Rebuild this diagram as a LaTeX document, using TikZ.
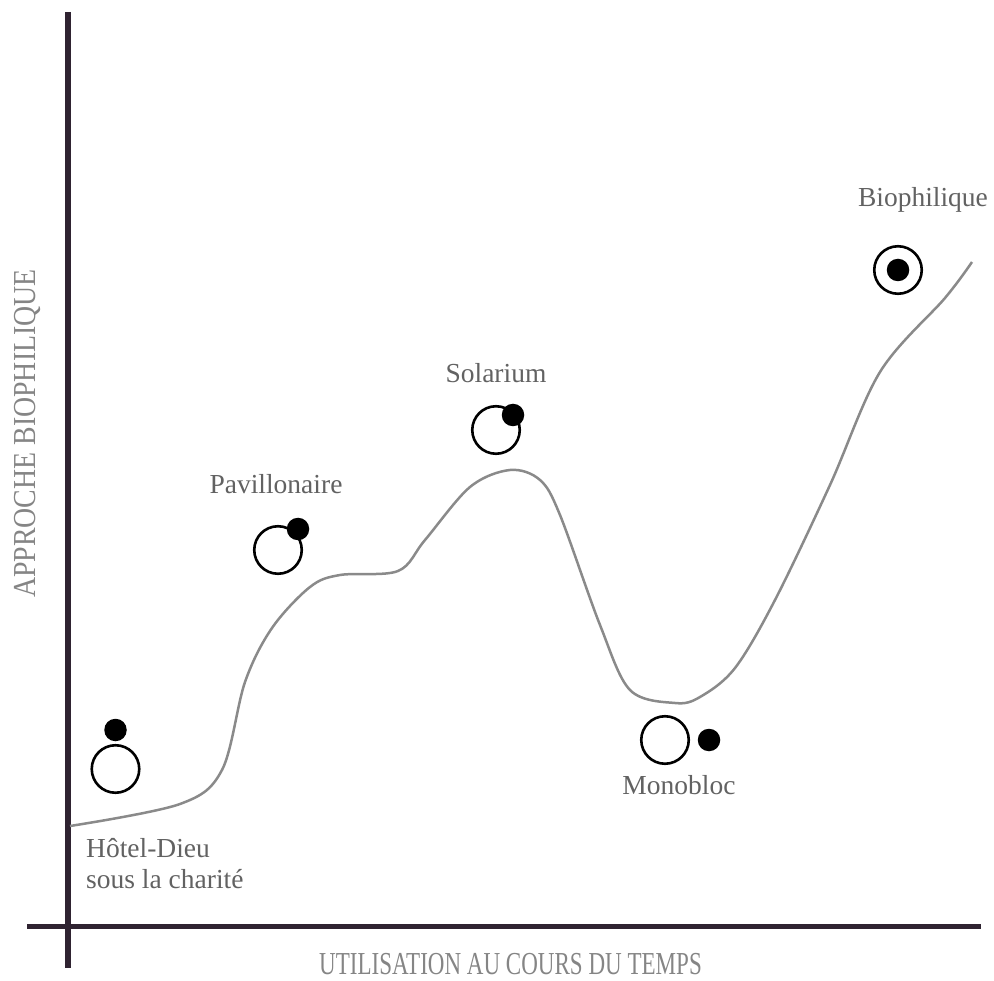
\documentclass[tikz,border=0pt]{standalone}
\usepackage{fontspec}
\setmainfont{Liberation Serif}
\definecolor{axiscol}{HTML}{2F2331}
\definecolor{labelcol}{HTML}{626262}
\definecolor{axlabelcol}{HTML}{858585}
\definecolor{curvecol}{HTML}{8A8A8A}
\begin{document}
\begin{tikzpicture}[x=1pt,y=-1pt,
  axis/.style={line width=5.5pt,draw=axiscol},
  lbl/.style={text=labelcol,font=\fontsize{27.5}{31}\selectfont,inner sep=0pt},
  axlbl/.style={text=axlabelcol,font=\fontsize{32}{36}\selectfont,inner sep=0pt},
  ring/.style={circle,draw=black,line width=2.6pt,fill=white,minimum size=47.5pt,inner sep=0pt},
  dot/.style={circle,fill=black,minimum size=22.5pt,inner sep=0pt},
  curve/.style={draw=curvecol,line width=2.5pt}]
\useasboundingbox (0,0) rectangle (994,981);
% axes
\coordinate (ytop) at (68,12);
\coordinate (ybot) at (68,968);
\coordinate (xl) at (27,926.5);
\coordinate (xr) at (981,926.5);
\draw[axis] (ytop) -- (ybot);
\draw[axis] (xl) -- (xr);
\node[axlbl,rotate=90,anchor=base] (ylab) at (35,433.5) {\scalebox{0.87}[1]{APPROCHE BIOPHILIQUE}};
\node[axlbl,anchor=base] (xlab) at (510.5,974) {\scalebox{0.72}[1]{UTILISATION AU COURS DU TEMPS}};
% curve
\draw[curve] plot[smooth,tension=0.55] coordinates {
 (70,826) (180,804) (222,770) (245,682) (272,628) (310,587) (340,575) (398,571)
 (425,540) (470,487) (510,470) (540,480) (560,515) (600,625) (630,690) (675,703)
 (700,697) (735,668) (775,600) (830,485) (880,372) (945,298) (972,262)};
% Hotel-Dieu
\node[ring] (r1) at (115.5,769) {};
\node[dot] (d1) at (115.5,730) {};
\node[lbl,anchor=base west] (l1a) at (86,857) {Hôtel-Dieu};
\node[lbl,anchor=base west] (l1b) at (86,888) {sous la charité};
% Pavillonaire
\node[ring] (r2) at (278,550) {};
\node[dot] (d2) at (298,529) {};
\node[lbl,anchor=base] (l2) at (276,494) {Pavillonaire};
% Solarium
\node[ring] (r3) at (496,430) {};
\node[dot] (d3) at (513,415) {};
\node[lbl,anchor=base] (l3) at (496,383) {Solarium};
% Monobloc
\node[ring] (r4) at (665,740) {};
\node[dot] (d4) at (709,740) {};
\node[lbl,anchor=base] (l4) at (679,794) {Monobloc};
% Biophilique
\node[ring] (r5) at (898,270) {};
\node[dot] (d5) at (898,270) {};
\node[lbl,anchor=base] (l5) at (923,207) {Biophilique};
\end{tikzpicture}
\end{document}
